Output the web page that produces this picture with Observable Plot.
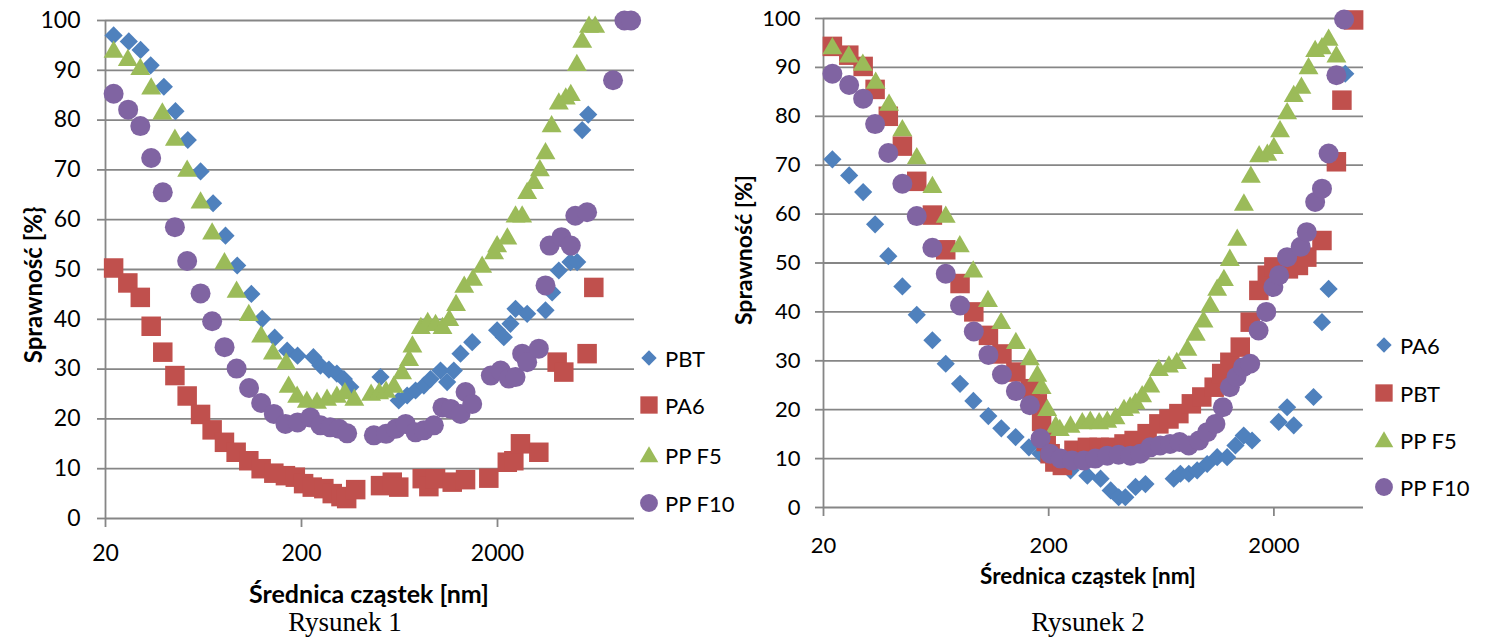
<!DOCTYPE html>
<html><head><meta charset="utf-8">
<script src="https://cdn.jsdelivr.net/npm/d3@7"></script>
<script src="https://cdn.jsdelivr.net/npm/@observablehq/plot@0.6"></script>
<style>
body{margin:0;background:#fff;}
#root{position:relative;width:1491px;height:638px;overflow:hidden;font-family:Lato,"Open Sans",sans-serif;color:#000;}
.panel{position:absolute;top:0;}
.panel svg{overflow:visible;max-width:none;}
.t{position:absolute;white-space:nowrap;transform:translate(-50%,-50%);}
.bold{font-weight:bold;}
.ytitle{transform:translate(-50%,-50%) rotate(-90deg);}
.cap{font-family:"Liberation Serif","Times New Roman",serif;font-size:27px;}
.leg{position:absolute;font-size:22px;}
.leg .row{position:absolute;display:flex;align-items:center;white-space:nowrap;}
.leg svg{margin-right:7px;overflow:visible;}
</style></head>
<body><div id="root"></div>
<script>
// ---------- Rysunek 1 ----------
const f1_PBT_d = [22,26.3,30.2,34,39.7,45.5,52.6,61.1,70.8,81.9,94,111,126,146,169,191,230,250,276,303,329,355,506,627,692,764,842,910,1024,1107,1197,1295,1486,1991,2154,2329,2472,2834,3515,3801,4110,4712,5101,5410,5807];
const f1_PBT_v = [97,95.8,94.1,91,86.7,81.8,76,69.7,63.3,56.8,50.8,45.1,40.1,36.3,33.7,32.7,32.4,30.7,29.9,29.1,28,26.4,28.4,23.7,24.7,25.7,26.7,28,29.7,27.4,29.7,33.1,35.4,37.8,36.4,39.1,42.1,41.1,41.8,45.4,49.8,51.5,51.5,78,81.1];
const f1_PA6_d = [22,26,30.1,34.2,39.2,45.2,52.2,61.1,70,80.9,92.8,107.7,124.5,144.5,165.6,186,205,227,260,287,318,340,378,506,581,627,826,893,966,1175,1374,1806,2244,2423,2619,3250,4030,4358,5730,6200];
const f1_PA6_v = [50.3,47.3,44.4,38.6,33.4,28.7,24.6,20.9,17.8,15.3,13.3,11.6,10,9.1,8.6,8.3,7,6.3,6,5,4.4,4,5.8,6.6,7.3,6.3,8,6.4,8,7.3,7.8,8.1,11.3,11.6,15,13.3,31.4,29.4,33.1,46.4];
const f1_F5_d = [22,26,30.1,34.2,39,45.2,52.2,61.1,70,80.9,93.3,107.7,124.5,143,167,172,190,213,240,270,303,333,372,453,498,540,592,652,708,736,813,881,966,1048,1135,1229,1353,1499,1670,1922,1991,2244,2472,2672,2834,3070,3290,3515,3776,4110,4460,4730,5080,5410,5860,6300];
const f1_F5_v = [94.3,92.6,90.8,86.9,81.9,76.6,70.4,64,57.8,51.8,46.1,41.4,37.1,33.7,31.7,27,25,24,23.8,24.4,25,25.7,24.4,25.4,25.7,26,27,29.7,32.4,35.1,38.8,39.8,39.4,38.8,40.4,43.4,47.1,48.5,51.1,53.8,55.2,56.8,61.2,61.2,65.9,67.9,70.5,73.9,79.3,83.9,84.9,85.6,91.6,96.3,99.3,99.3];
const f1_F10_d = [22,26.1,30.1,34.2,39.2,45.2,52.2,61.1,70,81,93.3,108,124.5,144.5,165.6,191,222,250,280,311,342,468,540,605,680,764,842,947,1048,1155,1295,1374,1486,1849,2074,2285,2472,2672,2834,3250,3515,3690,4240,4730,4990,5730,7770,8880,9600];
const f1_F10_v = [85.3,82.1,78.8,72.4,65.5,58.5,51.7,45.2,39.6,34.4,30.1,26.2,23.2,21,19,19.3,20.3,18.7,18.3,18,17.1,16.7,17,18,19,17.3,17.7,18.7,22.3,22,21,25.4,23,28.7,29.7,28.1,28.4,33.1,31.4,34.1,46.8,54.8,56.5,54.8,60.8,61.5,88,100,100];

// ---------- Rysunek 2 ----------
const f2_PA6_d = [21.9,26,30,33.9,38.8,44.8,51.9,60.9,69.8,80.8,92.6,107.9,123.2,142.6,163.4,184,205,226,250,297,340,377,409,438,486,538,718,769,838,913,1011,1120,1240,1350,1469,1600,2100,2290,2450,3000,3270,3500,4150];
const f2_PA6_v = [71.2,67.9,64.5,57.9,51.4,45.2,39.4,34.2,29.4,25.3,21.8,18.7,16.2,14.4,12.3,11,9.8,8.6,7.6,6.5,5.9,3.5,2.1,2.1,4.2,4.8,5.9,6.9,6.9,7.6,8.9,10.3,10.3,12.7,14.7,13.7,17.5,20.5,16.8,22.6,37.9,44.7,88.7];
const f2_PBT_d = [21.9,25.9,30,33.9,38.8,44.8,51.9,60.9,69.8,80.8,93,108,124,143,166,178,186,195,203,213,230,259,297,335,377,432,479,547,617,684,757,860,957,1086,1173,1275,1418,1570,1715,1870,2000,2320,2570,2800,3270,3790,4010,4520];
const f2_PBT_v = [94.3,92.5,90.2,85.5,80,73.9,66.7,59.8,52.7,45.8,40,35.2,31.4,27.7,24.3,21.2,17.6,13.5,11,9.3,8.6,11.7,12.3,12.3,12.3,13,13.7,15.1,17.1,18.1,19.2,21.2,22.6,24.6,27.4,29.7,32.8,37.9,44.4,47.5,49.2,48.8,49.5,51.2,54.6,70.7,83.3,99.7];
const f2_F5_d = [21.9,25.9,29.9,34.1,39.1,44.8,51.9,60.9,69.8,80.6,92.4,107.5,123,143,165,178,186,197,215,224,250,282,306,335,364,396,432,460,486,520,565,617,684,741,826,900,974,1043,1120,1200,1275,1375,1472,1580,1720,1870,2000,2130,2290,2450,2650,2850,3050,3270,3500,3790];
const f2_F5_v = [94.5,92.8,91.1,87.4,82.9,77.7,72,66.1,60,54,48.8,42.8,38.3,34.2,30.9,27.5,25,20.5,17.1,16.4,17.1,17.8,18.1,17.8,18.1,18.8,20.5,21,21.9,23.3,25.3,28.7,29.4,30.1,32.8,35.9,38.6,41.7,45.1,47.1,51.2,55.3,62.5,68.2,72.4,72.7,74.1,77.5,81.2,84.7,86.4,90.4,93.9,94.5,96.2,92.8];
const f2_F10_d = [21.9,26,30,33.9,38.8,44.8,51.9,60.9,69.8,80.8,93,108,124,143,165,184,203,226,254,286,322,364,409,461,510,565,625,692,763,838,930,1011,1100,1187,1275,1365,1460,1570,1710,1850,1990,2110,2290,2630,2800,3050,3270,3500,3790,4100];
const f2_F10_v = [88.7,86.4,83.6,78.4,72.5,66.2,59.6,53.1,47.8,41.3,36,31.2,27.2,23.8,20.9,14.1,11,10,9.6,9.6,10,10.6,10.8,10.6,11,12.3,12.7,13,13.4,12.7,13.7,15.4,17.1,20.5,24.6,26.7,28.7,29.4,36.2,40,45.1,47.5,51.2,53.3,56.3,62.5,65.2,72.4,88.4,99.8];

const yTicks = [0,10,20,30,40,50,60,70,80,90,100];
const xTicks = [20,200,2000];
const f1_xDomain = [20,10000];
const f2_xDomain = [20,5000];
const legend1 = ["PBT","PA6","PP F5","PP F10"];
const legend2 = ["PA6","PBT","PP F5","PP F10"];

// styles
const C = {blue:"#4F81BD", red:"#C0504D", green:"#9BBB59", purple:"#8064A2"};
const SYM = {blue:{s:"diamond2",r:8.2}, red:{s:"square",r:11}, green:{s:"triangle",r:7.4,dy:3}, purple:{s:"circle",r:10}};
const GRID = "#868686";

const rows = (d, v) => d.map((x, i) => ({x, y: v[i]}));

function panel(series, xDomain, opt) {
  const marks = [
    Plot.ruleY(yTicks.filter(t => t > 0), {stroke: GRID, strokeWidth: 1.8}),
    Plot.ruleY([0], {stroke: GRID, strokeWidth: 1.8}),
    Plot.ruleX([xDomain[0]], {stroke: GRID, strokeWidth: 1.8}),
    Plot.axisY({ticks: yTicks, tickSize: 8, tickPadding: opt.yPad, stroke: GRID, strokeWidth: 1.8, fontSize: opt.fs, label: null, fill: "#000"}),
    Plot.axisX({ticks: xTicks, tickFormat: d => String(d), tickSize: 9, tickPadding: opt.xPad, stroke: GRID, strokeWidth: 1.8, fontSize: opt.fs, label: null, fill: "#000"})
  ];
  for (const s of series) {
    const sy = SYM[s.c];
    marks.push(Plot.dot(s.data, {x: "x", y: "y", symbol: sy.s, r: sy.r, fill: C[s.c], stroke: "none", dy: sy.dy || 0}));
  }
  return Plot.plot({
    width: opt.width, height: opt.height,
    marginLeft: opt.ml, marginRight: opt.mr, marginTop: opt.mt, marginBottom: opt.mb,
    x: {type: "log", domain: xDomain},
    y: {domain: [0, 100]},
    style: {fontFamily: "Lato, 'Open Sans', sans-serif", fontSize: opt.fs + "px", color: "#000", background: "transparent", overflow: "visible"},
    marks
  });
}

const root = document.getElementById("root");
function place(node, left) {
  const w = document.createElement("div");
  w.className = "panel"; w.style.left = left + "px";
  w.appendChild(node); root.appendChild(w);
}
function text(cls, str, x, y, fs) {
  const d = document.createElement("div");
  d.className = "t " + cls; d.textContent = str;
  d.style.left = x + "px"; d.style.top = y + "px";
  if (fs) d.style.fontSize = fs + "px";
  root.appendChild(d);
}
function legend(items, colors, x, ys) {
  const L = document.createElement("div"); L.className = "leg";
  items.forEach((name, i) => {
    const row = document.createElement("div"); row.className = "row";
    row.style.left = x + "px"; row.style.top = (ys[i] - 11) + "px"; row.style.height = "22px";
    const sy = SYM[colors[i]];
    const sz = {diamond2: 150, square: 300, triangle: 150, circle: 250}[sy.s];
    const type = {diamond2: d3.symbolDiamond2, square: d3.symbolSquare, triangle: d3.symbolTriangle, circle: d3.symbolCircle}[sy.s];
    const svg = d3.create("svg").attr("width", 18).attr("height", 18).attr("viewBox", "-9 -9 18 18");
    svg.append("path").attr("d", d3.symbol(type, sz)()).attr("fill", C[colors[i]]).attr("transform", sy.s === "triangle" ? "translate(0,2)" : null);
    row.appendChild(svg.node());
    const sp = document.createElement("span"); sp.textContent = name; row.appendChild(sp);
    L.appendChild(row);
  });
  root.appendChild(L);
}

place(panel([
  {c: "blue", data: rows(f1_PBT_d, f1_PBT_v)},
  {c: "red", data: rows(f1_PA6_d, f1_PA6_v)},
  {c: "green", data: rows(f1_F5_d, f1_F5_v)},
  {c: "purple", data: rows(f1_F10_d, f1_F10_v)}
], f1_xDomain, {width: 760, height: 600, ml: 105, mr: 126, mt: 20, mb: 82, yPad: 17, xPad: 17, fs: 23}), 0);

place(panel([
  {c: "blue", data: rows(f2_PA6_d, f2_PA6_v)},
  {c: "red", data: rows(f2_PBT_d, f2_PBT_v)},
  {c: "green", data: rows(f2_F5_d, f2_F5_v)},
  {c: "purple", data: rows(f2_F10_d, f2_F10_v)}
], f2_xDomain, {width: 771, height: 600, ml: 103, mr: 128, mt: 18, mb: 93, yPad: 15, xPad: 21, fs: 22}), 720);

legend(legend1, ["blue","red","green","purple"], 640, [358, 405, 455, 503]);
legend(legend2, ["blue","red","green","purple"], 1375, [345, 393, 440, 487]);

text("bold", "Średnica cząstek [nm]", 369, 593, 25);
text("bold", "Średnica cząstek  [nm]", 1088, 575, 22.5);
text("bold ytitle", "Sprawność [%}", 32, 285, 24);
text("bold ytitle", "Sprawność  [%]", 743, 250, 23);
text("cap", "Rysunek 1", 345, 622);
text("cap", "Rysunek 2", 1088, 622);
</script></body></html>
